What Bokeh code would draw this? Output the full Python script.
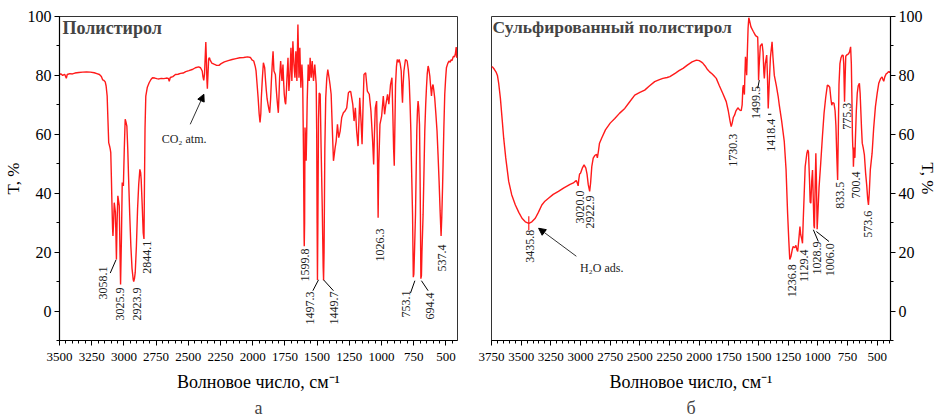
import math
from bokeh.plotting import figure
from bokeh.layouts import row
from bokeh.models import Range1d, FixedTicker, Arrow, NormalHead, Title, Label
from bokeh.embed import file_html
from bokeh.resources import INLINE
from bokeh.core.properties import value

# ---------------- Polystyrene IR spectrum (wavenumber cm-1, transmittance %) ----------------
ps_wn = [3500, 3490, 3475, 3460, 3447, 3440, 3420, 3400, 3380, 3350, 3320, 3290, 3260, 3230,
         3210, 3190, 3175, 3165, 3155, 3145, 3138, 3130, 3124, 3118, 3110, 3106, 3102, 3097,
         3093, 3088, 3085, 3080, 3075, 3070, 3066, 3062, 3058.1, 3053, 3047, 3040, 3036, 3031,
         3025.9, 3019, 3013, 3004, 2997, 2990, 2983, 2977, 2970, 2964, 2955, 2946, 2937, 2928,
         2923.9, 2918, 2912, 2903, 2894, 2885, 2876, 2870, 2866, 2858, 2850, 2844.1, 2840, 2836,
         2830, 2818, 2804, 2790, 2778, 2760, 2745, 2727, 2710, 2690, 2670, 2655, 2648, 2640,
         2620, 2600, 2580, 2560, 2540, 2520, 2495, 2470, 2445, 2420, 2405, 2392, 2386, 2380,
         2374, 2368, 2364, 2360, 2356, 2352, 2347, 2342, 2336, 2330, 2318, 2300, 2280, 2262,
         2245, 2220, 2190, 2160, 2130, 2100, 2070, 2040, 2018, 2006, 1992, 1980, 1974, 1966,
         1958, 1950, 1943, 1937, 1933, 1925, 1917, 1907, 1900, 1894, 1888, 1881, 1874, 1868,
         1861, 1855, 1848, 1842, 1835, 1824, 1818, 1812, 1806, 1801, 1796, 1791, 1783, 1773,
         1765, 1760, 1755, 1749, 1744, 1739, 1734, 1726, 1719, 1711, 1703, 1696, 1688, 1680,
         1672, 1665, 1657, 1649, 1641, 1634, 1626, 1618, 1612, 1606, 1601, 1599.8, 1597, 1594,
         1589, 1585, 1581, 1577, 1569, 1561, 1554, 1546, 1538, 1528, 1518, 1507, 1503, 1500,
         1497.3, 1494, 1489, 1484, 1476, 1469, 1460, 1453, 1449.7, 1446, 1440, 1433, 1425, 1417,
         1407, 1400, 1391, 1382, 1373, 1367, 1360, 1352, 1342, 1332, 1321, 1309, 1296, 1283,
         1270, 1257, 1245, 1239, 1223, 1213, 1203, 1193, 1182, 1169, 1159, 1151, 1143, 1136,
         1123, 1117, 1110, 1095, 1082, 1069, 1061, 1055, 1048, 1038, 1032, 1026.3, 1021, 1012,
         999, 986, 976, 966, 953, 943, 930, 919, 912, 906, 901, 896, 891, 884, 878, 870, 863,
         855, 847, 841, 837, 832, 826, 814, 801, 792, 785, 778, 772, 765, 759, 755, 753.1, 749,
         744, 736, 731, 726, 721, 716, 711, 705, 701, 698, 694.4, 690, 686, 677, 670, 664, 657,
         651, 645, 638, 632, 625, 618, 612, 606, 600, 594, 587, 578, 569, 561, 553, 545, 537.4,
         532, 526, 522, 516, 509, 502, 496, 486, 476, 467, 458, 452, 446, 440, 434, 428, 424,
         420, 416, 412]
ps_t = [80.2, 80.6, 80.0, 80.4, 79.0, 80.3, 80.6, 80.5, 80.8, 81.0, 81.1, 81.2, 81.1, 80.9,
        80.6, 80.3, 79.6, 78.5, 78.3, 77.8, 76.4, 73.0, 65.0, 57.2, 55.8, 55.0, 53.8, 45.0,
        36.8, 28.0, 25.5, 30.0, 36.8, 35.0, 33.5, 26.0, 17.5, 30.0, 39.1, 37.0, 35.7, 22.0,
        9.0, 25.0, 43.6, 42.5, 55.0, 65.1, 64.0, 62.8, 55.0, 45.8, 33.0, 22.1, 14.5, 10.8,
        10.0, 11.0, 13.1, 22.0, 34.5, 43.0, 48.1, 47.0, 44.7, 36.0, 26.5, 24.5, 45.0, 62.0,
        73.0, 76.0, 77.5, 78.6, 79.2, 79.1, 78.9, 78.8, 79.0, 78.9, 79.1, 79.0, 78.0, 79.3,
        79.6, 80.3, 80.4, 80.7, 80.8, 81.3, 81.6, 82.0, 82.6, 82.9, 82.6, 81.5, 79.5, 78.3,
        80.5, 87.0, 91.3, 86.0, 79.0, 75.5, 80.5, 85.6, 86.0, 85.2, 84.2, 83.8, 83.4, 83.4,
        84.0, 84.6, 85.0, 85.4, 85.7, 86.0, 86.1, 86.3, 86.1, 85.3, 84.9, 83.0, 81.5, 77.0,
        72.4, 67.0, 64.0, 67.0, 72.4, 79.0, 84.3, 82.6, 78.0, 74.7, 72.0, 70.2, 68.5, 67.3,
        72.0, 78.1, 84.0, 88.2, 81.5, 80.3, 76.0, 72.4, 69.5, 67.3, 73.0, 79.2, 84.9, 78.1,
        83.7, 78.0, 73.6, 71.0, 70.2, 74.0, 79.2, 86.0, 74.7, 80.3, 89.4, 78.1, 91.6, 83.7,
        79.2, 88.2, 78.1, 97.3, 79.2, 89.4, 75.8, 83.7, 78.1, 55.0, 25.0, 22.0, 30.0, 62.3,
        58.0, 51.0, 60.0, 71.3, 83.7, 78.1, 86.0, 79.2, 84.9, 78.1, 83.7, 77.0, 60.0, 30.0,
        10.5, 30.0, 65.0, 74.0, 73.6, 55.5, 35.0, 15.0, 10.5, 20.0, 55.0, 72.4, 79.0, 82.0,
        79.2, 77.0, 73.6, 62.0, 51.0, 53.0, 55.5, 57.7, 63.4, 58.9, 61.1, 65.7, 67.3, 67.9,
        69.0, 74.1, 74.6, 74.5, 70.2, 64.5, 69.0, 61.1, 56.0, 72.4, 64.5, 56.6, 70.0, 80.3,
        80.9, 78.0, 74.7, 73.6, 67.9, 57.7, 49.8, 60.0, 69.0, 71.3, 55.0, 31.7, 50.0, 63.4,
        66.2, 73.0, 66.8, 70.2, 73.6, 70.2, 76.9, 79.2, 66.8, 55.0, 49.3, 63.0, 76.9, 83.0, 85.4, 84.5, 85.4,
        84.0, 81.5, 74.0, 70.7, 77.0, 81.5, 85.4, 84.9, 82.0, 78.1, 70.0, 61.1, 45.0, 32.9, 18.0, 11.5, 12.5,
        20.0, 32.9, 47.0, 61.1, 68.0, 71.3, 69.0, 63.4, 48.0, 32.9, 11.0, 12.0, 20.0, 32.9, 48.0, 61.1, 70.0,
        75.8, 80.5, 83.2, 82.0, 79.8, 76.0, 73.0, 76.0, 76.9, 75.0, 72.4, 67.0, 61.1, 53.0, 44.2, 34.0, 25.5,
        32.0, 42.0, 49.8, 62.0, 73.6, 79.0, 82.6, 84.0, 84.9, 84.5, 85.4, 85.0, 86.0, 86.6, 86.2, 87.0, 88.2,
        89.6, 86.0, 86.5]

# ---------------- Sulfonated polystyrene IR spectrum ----------------
sps_wn = [3750, 3740, 3725, 3710, 3700, 3690, 3675, 3660, 3647, 3630, 3605, 3580, 3549, 3520,
          3493, 3465, 3435.8, 3410, 3381, 3355, 3326, 3300, 3270, 3230, 3186, 3140, 3088, 3060,
          3046, 3035, 3025, 3020, 3015, 3008, 3000, 2985, 2970, 2955, 2945, 2935, 2922.9, 2915,
          2905, 2893, 2880, 2865, 2858, 2850, 2840, 2823, 2790, 2750, 2711, 2670, 2627, 2590,
          2543, 2500, 2459, 2420, 2375, 2340, 2306, 2270, 2247, 2200, 2170, 2136, 2100, 2060,
          2023, 2000, 1980, 1968, 1950, 1930, 1912, 1890, 1870, 1856, 1830, 1800, 1772, 1755,
          1740, 1730.3, 1722, 1712, 1702, 1690, 1674, 1660, 1646, 1638, 1632, 1627, 1622, 1619,
          1615, 1610, 1605, 1600, 1594, 1588, 1582, 1575, 1564, 1545, 1525, 1507, 1503, 1499.5,
          1495, 1485, 1470, 1462, 1455, 1451, 1443, 1431, 1425, 1418.4, 1412, 1400, 1386, 1378,
          1367, 1350, 1335, 1325, 1305, 1283, 1268, 1255, 1245, 1236.8, 1227, 1215, 1208, 1195,
          1185, 1178, 1170, 1160, 1151, 1145, 1136, 1129.4, 1124, 1115, 1107, 1093, 1085, 1079,
          1070, 1065, 1059, 1052, 1045, 1040, 1033, 1028.9, 1024, 1017, 1012, 1006.0, 1000, 990,
          976, 962, 948, 934, 920, 910, 900, 890, 883, 875, 864, 855, 848, 840, 833.5, 828, 822,
          814, 805, 795, 787, 782, 778, 775.3, 771, 765, 755, 742, 733, 724, 718, 713, 709, 706,
          703, 700.4, 697, 693, 688, 684, 676, 668, 660, 650, 644, 638, 632, 626, 618, 608, 598,
          588, 580, 573.6, 567, 558, 543, 530, 515, 500, 487, 470, 459, 452, 445, 436, 425, 417,
          405, 395, 389]
sps_t = [83.0, 82.8, 82.0, 81.0, 80.0, 77.5, 72.2, 65.0, 58.6, 52.0, 44.0, 39.5, 36.0, 33.5,
         31.5, 30.3, 29.8, 30.3, 31.5, 33.5, 36.0, 37.3, 38.3, 39.6, 40.6, 41.8, 43.0, 43.5,
         44.0, 44.3, 43.2, 42.5, 44.5, 46.5, 46.8, 48.5, 49.6, 48.5, 46.5, 43.0, 40.6, 43.5,
         49.0, 51.9, 52.8, 53.2, 52.0, 54.0, 57.0, 58.6, 61.5, 63.8, 65.4, 67.2, 68.8, 70.8,
         73.3, 74.2, 75.0, 76.4, 77.9, 78.5, 79.0, 79.3, 79.6, 80.8, 81.6, 82.4, 83.5, 84.6,
         85.2, 85.0, 84.5, 84.1, 83.2, 82.0, 81.2, 80.5, 79.6, 79.0, 76.5, 73.8, 71.1, 68.0,
         64.5, 62.6, 63.8, 65.8, 66.5, 68.0, 69.0, 68.3, 68.0, 70.0, 75.8, 76.7, 74.5, 73.5,
         80.0, 86.3, 84.0, 80.1, 88.0, 96.0, 99.6, 98.5, 96.5, 95.0, 93.5, 93.0, 87.0, 78.4,
         83.0, 90.0, 90.8, 88.0, 81.0, 79.0, 84.0, 86.9, 80.0, 68.8, 75.0, 86.0, 91.4, 86.0,
         80.0, 76.5, 73.0, 69.9, 64.5, 57.5, 48.0, 33.2, 24.0, 17.5, 18.5, 21.0, 21.9, 21.5,
         22.3, 21.0, 20.2, 24.5, 28.7, 26.0, 24.5, 23.0, 30.0, 40.0, 49.0, 53.5, 54.7, 54.0,
         44.0, 37.0, 36.6, 44.0, 47.9, 40.0, 29.0, 28.1, 40.0, 53.6, 44.0, 27.8, 33.0, 42.0,
         50.2, 59.0, 67.1, 72.5, 76.7, 76.5, 76.0, 72.0, 69.9, 70.8, 70.5, 68.0, 63.0, 52.0, 44.5, 60.0, 77.0,
         84.0, 86.0, 86.9, 86.8, 84.0, 76.0, 71.1, 78.0, 86.5, 87.0, 87.3, 88.0, 89.7, 84.0, 72.0, 60.0, 56.0,
         54.5, 49.0, 53.0, 55.5, 52.0, 58.0, 68.0, 74.0, 76.5, 77.3, 74.0, 68.0, 62.0, 57.0, 55.5, 53.0, 47.0,
         42.5, 38.0, 36.0, 40.0, 48.0, 53.6, 62.0, 69.4, 74.0, 77.3, 79.0, 79.5, 78.6, 78.0, 79.5, 80.5, 80.7,
         81.3, 81.0, 81.3]

# Band labels
ps_peaks = [3058.1, 3025.9, 2923.9, 2844.1, 1599.8, 1497.3, 1449.7, 1026.3, 753.1, 694.4, 537.4]
sps_peaks = [3435.8, 3020.0, 2922.9, 1730.3, 1499.5, 1418.4, 1236.8, 1129.4, 1028.9, 1006.0,
             833.5, 775.3, 700.4, 573.6]

ps_x_ticks = [3500, 3250, 3000, 2750, 2500, 2250, 2000, 1750, 1500, 1250, 1000, 750, 500]
sps_x_ticks = [3750, 3500, 3250, 3000, 2750, 2500, 2250, 2000, 1750, 1500, 1250, 1000, 750, 500]
t_ticks = [0, 20, 40, 60, 80, 100]

# ---- placement of rotated band labels (label centre, wavenumber / T units) ----
ps_label_xy = [(3160, 9.5), (3028, 2.4), (2901, 2.4), (2819, 18.3), (1597, 15.6), (1559, 1.0),
               (1365, 1.0), (1012, 22.4), (812, 2.4), (625, 1.7), (530, 18.0)]
ps_leaders = [((3106, 12.9), (3061, 17.4)), ((1533, 6.9), (1489, 10.6)),
              ((1373, 6.9), (1450, 10.6)), ((775, 6.1), (741, 10.3)), ((638, 6.9), (690, 10.3))]

sps_label_xy = [(3429, 22.0), (3001, 35.3), (2918, 33.6), (1719, 54.6), (1520, 70.8), (1392, 59.7),
                (1220, 10.3), (1116, 15.4), (1011, 18.0), (898, 17.4), (814, 39.3), (751, 66.1),
                (682, 42.8), (579, 29.5)]
sps_leaders = [((1507, 75.6), (1493, 78.4)), ((1420, 66.8), (1392, 66.8)),
               ((1038, 27.6), (996, 23.6)), ((1012.5, 27.0), (906, 23.6))]

SERIF = "Liberation Serif"
RED = "#ff1a1a"


def make_panel(x_start, x_end, x_ticks, y_side, width, border_left, border_right):
    p = figure(width=width, height=419, x_range=Range1d(x_start, x_end), y_range=Range1d(-10, 100),
               output_backend="svg", toolbar_location=None, y_axis_location=y_side, title=None,
               min_border_left=border_left, min_border_right=border_right,
               min_border_top=16, min_border_bottom=78)
    p.grid.visible = False
    p.outline_line_color = "#333333"
    p.outline_line_width = 1
    p.background_fill_color = "white"
    p.border_fill_color = "white"

    minor_x = list(range(int(min(x_start, x_end)) // 50 * 50, int(max(x_start, x_end)) + 1, 50))
    p.xaxis.ticker = FixedTicker(ticks=x_ticks, minor_ticks=minor_x)
    p.yaxis.ticker = FixedTicker(ticks=t_ticks, minor_ticks=list(range(-10, 101, 10)))
    for ax in (p.xaxis[0], p.yaxis[0]):
        ax.axis_line_color = "black"
        ax.axis_line_width = 1.2
        ax.major_tick_line_color = "black"
        ax.minor_tick_line_color = "black"
        ax.major_tick_in = 0
        ax.minor_tick_in = 0
        ax.major_tick_out = 5
        ax.minor_tick_out = 3
        ax.major_label_text_font = SERIF
        ax.major_label_text_color = "black"
        ax.axis_label_text_font = SERIF
        ax.axis_label_text_font_style = "normal"
        ax.axis_label_text_color = "black"
    p.xaxis.major_label_text_font_size = "13px"
    p.yaxis.major_label_text_font_size = "16px"
    p.xaxis.major_label_standoff = 7
    p.yaxis.major_label_standoff = 3
    p.xaxis.axis_label = "Волновое число, см⁻¹"
    p.xaxis.axis_label_text_font_size = "18px"
    p.xaxis.axis_label_standoff = 8
    p.yaxis.axis_label = "T, %"
    p.yaxis.axis_label_text_font_size = "17px"
    p.yaxis.axis_label_standoff = 2
    return p


def add_band_labels(p, peaks, xy, leaders):
    p.text(x=[q[0] for q in xy], y=[q[1] for q in xy], text=[f"{w:.1f}" for w in peaks],
           angle=math.pi / 2, text_align="center", text_baseline="middle",
           text_font=value(SERIF), text_font_size="12px", text_color="#222222")
    p.segment(x0=[a[0] for a, b in leaders], y0=[a[1] for a, b in leaders],
              x1=[b[0] for a, b in leaders], y1=[b[1] for a, b in leaders],
              line_color="black", line_width=1)


# ---------------- left panel: polystyrene ----------------
p1 = make_panel(3500, 410, ps_x_ticks, "left", 470, 55, 13)
p1.line(ps_wn, ps_t, line_color=RED, line_width=1.4)
add_band_labels(p1, ps_peaks, ps_label_xy, ps_leaders)
p1.add_layout(Label(x=3477, y=96.1, text="Полистирол", text_font=SERIF, text_font_size="18px",
                    text_font_style="bold", text_baseline="middle", text_align="left"))
p1.add_layout(Label(x=2533, y=58.3, text="CO₂ atm.", text_font=SERIF, text_font_size="12px",
                    text_align="center", text_baseline="middle", text_color="#222222"))
p1.add_layout(Arrow(end=NormalHead(size=7, fill_color="black", line_color="black"),
                    x_start=2485, y_start=63.4, x_end=2379, y_end=73.6,
                    line_color="#333333", line_width=1))
p1.add_layout(Title(text="а", align="center", text_font=SERIF, text_font_size="18px",
                    text_font_style="normal", standoff=3), "below")

# ---------------- right panel: sulfonated polystyrene ----------------
p2 = make_panel(3750, 388, sps_x_ticks, "right", 469, 21, 47)
p2.yaxis.axis_label_standoff = -8
p2.line(sps_wn, sps_t, line_color=RED, line_width=1.4)
add_band_labels(p2, sps_peaks, sps_label_xy, sps_leaders)
# cursor mark at the water band minimum
h2o_i = sps_wn.index(sps_peaks[0])
p2.segment(x0=[sps_wn[h2o_i]], y0=[sps_t[h2o_i] - 2.4], x1=[sps_wn[h2o_i]], y1=[sps_t[h2o_i] + 2.4],
           line_color=RED, line_width=1.2)
p2.add_layout(Label(x=3742, y=96.6, text="Сульфированный полистирол", text_font=SERIF,
                    text_font_size="17.5px", text_font_style="bold", text_baseline="middle",
                    text_align="left"))
p2.add_layout(Label(x=3005, y=14.6, text="H₂O ads.", text_font=SERIF, text_font_size="12px",
                    text_align="left", text_baseline="middle", text_color="#222222"))
p2.add_layout(Arrow(end=NormalHead(size=7, fill_color="black", line_color="black"),
                    x_start=3035, y_start=18.6, x_end=3353, y_end=28.1,
                    line_color="#333333", line_width=1))
p2.add_layout(Title(text="б", align="center", text_font=SERIF, text_font_size="18px",
                    text_font_style="normal", standoff=3), "below")

layout = row(p1, p2)
open("out.html", "w").write(file_html(layout, INLINE))
